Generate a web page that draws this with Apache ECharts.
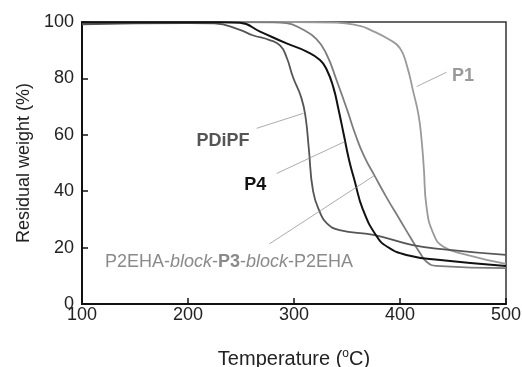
<!DOCTYPE html>
<html>
<head>
<meta charset="utf-8">
<script src="https://cdn.jsdelivr.net/npm/echarts@6/dist/echarts.min.js"></script>
<style>
  html, body { margin: 0; padding: 0; background: #fff; }
  #chart { width: 522px; height: 367px; }
</style>
</head>
<body>
<div id="chart"></div>
<script>
// TGA curves
var tempPDiPF = [100, 200, 225, 249, 261, 277, 287, 293, 299, 307, 311, 314, 318, 324.5, 331, 343, 375, 412, 444, 500];
var wPDiPF = [99.2, 99.6, 99.5, 97.2, 95.3, 93.6, 91.6, 87.5, 80.5, 73, 66, 55, 40, 32.5, 28.6, 26.2, 24.5, 20.9, 19.3, 17.4];

var tempP4 = [100, 230, 249, 268, 293, 312, 324.5, 331, 337, 342, 347, 352, 357, 365, 378, 388, 406, 438, 500];
var wP4 = [99.9, 99.9, 99.7, 96.6, 92.4, 89.5, 86.5, 83, 77, 69, 60, 51, 44, 33.5, 24, 20.3, 17.4, 15.6, 13.5];

var tempP3 = [100, 200, 280, 293, 306, 321, 331, 340, 350, 358, 366, 376, 387, 400, 410, 419, 425, 434, 500];
var wP3 = [99.8, 100, 99.9, 99.6, 97.8, 94, 88.3, 79.5, 69, 60, 52.5, 45.5, 38, 29.8, 23.5, 18, 15, 13.5, 12.7];

var tempP1 = [100, 200, 300, 340, 362, 372, 390.6, 400, 406.3, 412.5, 417.5, 420.5, 422.5, 425, 431.4, 441, 463, 500];
var wP1 = [99.8, 100, 100, 99.8, 98.6, 97.2, 93.6, 90.7, 84.8, 75.3, 67, 57.6, 48, 34.5, 25, 20.3, 17.4, 14.2];

var xTicks = [100, 200, 300, 400, 500];
var yTicks = [0, 20, 40, 60, 80, 100];

// annotation anchors in data units: [text point, leader start, leader end]
var noteP1 = [[449, 80.7], [415.7, 77.1], [444, 82.2]];
var notePDiPF = [[258, 57.9], [264.8, 62.3], [308.8, 67.6]];
var noteP4 = [[253, 42.1], [283.7, 46.3], [348, 57.6]];
var noteP3 = [[121.7, 14.9], [276.7, 21.3], [376.4, 45.7]];

function zip(xs, ys) {
  var out = [];
  for (var i = 0; i < xs.length; i++) out.push([xs[i], ys[i]]);
  return out;
}

function curve(name, xs, ys, color, width, note, labelOpt) {
  return {
    name: name,
    type: "line",
    data: zip(xs, ys),
    smooth: 0.5,
    symbol: "none",
    lineStyle: { color: color, width: width },
    z: 3,
    markLine: {
      silent: true,
      symbol: "none",
      animation: false,
      label: { show: false },
      lineStyle: { color: "#888", width: 0.7, type: "solid" },
      data: [[{ coord: note[1] }, { coord: note[2] }]],
    },
    markPoint: {
      silent: true,
      symbol: "circle",
      symbolSize: 0,
      animation: false,
      label: labelOpt,
      data: [{ coord: note[0] }],
    },
  };
}

var chart = echarts.init(document.getElementById("chart"));
var font = "Liberation Sans, Arial, sans-serif";

var option = {
  animation: false,
  textStyle: { fontFamily: font },
  grid: {
    left: 82,
    right: 16,
    top: 22,
    bottom: 63,
    outerBoundsMode: "none",
    show: true,
    borderColor: "#333",
    borderWidth: 1.5,
  },
  xAxis: {
    type: "value",
    min: xTicks[0],
    max: xTicks[xTicks.length - 1],
    interval: 100,
    name: "Temperature ({s|o}C)",
    nameLocation: "middle",
    nameGap: 44,
    nameTextStyle: {
      fontSize: 20,
      color: "#222",
      fontFamily: font,
      rich: { s: { fontSize: 12, verticalAlign: "top", padding: [0, 0, 10, 0], color: "#222", fontFamily: font } },
    },
    axisLine: { lineStyle: { color: "#111", width: 2 } },
    axisTick: { inside: true, length: 6, lineStyle: { color: "#111", width: 1.5 } },
    axisLabel: { fontSize: 18, color: "#222", margin: 2 },
    splitLine: { show: false },
  },
  yAxis: {
    type: "value",
    min: yTicks[0],
    max: yTicks[yTicks.length - 1],
    interval: 20,
    name: "Residual weight (%)",
    nameLocation: "middle",
    nameGap: 49,
    nameTextStyle: { fontSize: 18, color: "#222" },
    axisLine: { lineStyle: { color: "#111", width: 2 } },
    axisTick: { inside: true, length: 6, lineStyle: { color: "#111", width: 1.5 } },
    axisLabel: { fontSize: 18, color: "#222", margin: 8 },
    splitLine: { show: false },
  },
  series: [
    curve("P1", tempP1, wP1, "#9a9a9a", 1.8, noteP1, {
      show: true, position: "inside", align: "left", formatter: "P1",
      fontSize: 18, fontWeight: "bold", color: "#9a9a9a",
    }),
    curve("P2EHA-block-P3-block-P2EHA", tempP3, wP3, "#7d7d7d", 1.8, noteP3, {
      show: true, position: "inside", align: "left",
      formatter: "{n|P2EHA-}{i|block}{n|-}{b|P3}{n|-}{i|block}{n|-P2EHA}",
      rich: {
        n: { fontSize: 18, color: "#8a8a8a", fontFamily: font },
        i: { fontSize: 18, color: "#8a8a8a", fontStyle: "italic", fontFamily: font },
        b: { fontSize: 18, color: "#8a8a8a", fontWeight: "bold", fontFamily: font },
      },
    }),
    curve("PDiPF", tempPDiPF, wPDiPF, "#555", 1.8, notePDiPF, {
      show: true, position: "inside", align: "right", formatter: "PDiPF",
      fontSize: 18, fontWeight: "bold", color: "#555",
    }),
    curve("P4", tempP4, wP4, "#111", 2, noteP4, {
      show: true, position: "inside", align: "left", formatter: "P4",
      fontSize: 18, fontWeight: "bold", color: "#111",
    }),
  ],
};

chart.setOption(option);
</script>
</body>
</html>
